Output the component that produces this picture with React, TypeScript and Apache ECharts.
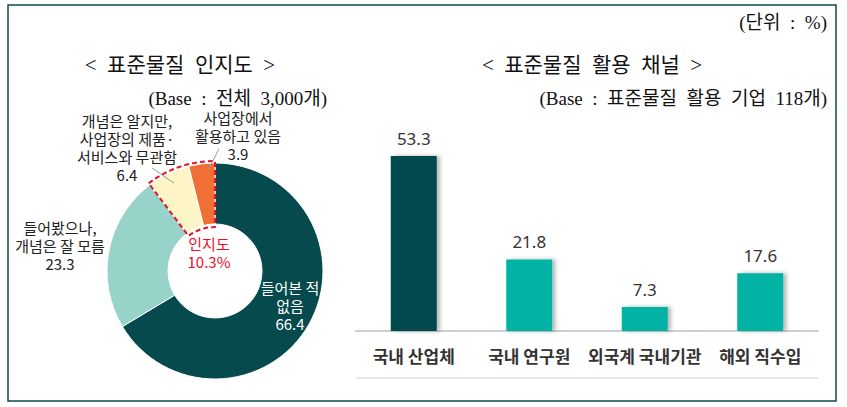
import React, { useEffect, useRef } from "react";
import * as echarts from "echarts";

// ---- data ----
const donutNames = [
  "들어본 적\n없음",
  "들어봤으나,\n개념은 잘 모름",
  "개념은 알지만,\n사업장의 제품·\n서비스와 무관함",
  "사업장에서\n활용하고 있음",
];
const donutValues = [66.4, 23.3, 6.4, 3.9];

const barCategories = ["국내 산업체", "국내 연구원", "외국계 국내기관", "해외 직수입"];
const barValues = [53.3, 21.8, 7.3, 17.6];

const unitText = "(단위  :  %)";
const leftTitle = "<  표준물질  인지도  >";
const rightTitle = "<  표준물질  활용  채널  >";
const leftBase = "(Base  :  전체  3,000개)";
const rightBase = "(Base  :  표준물질  활용  기업  118개)";
const awarenessLabel = "인지도";

// ---- styles ----
const donutColors = ["#064a4e", "#97d3c8", "#fdf5c6", "#f06f35"];
const barColors = ["#064a4e", "#00b3a4", "#00b3a4", "#00b3a4"];
const labelPos = [
  { x: 290, y: 305 },
  { x: 60, y: 245 },
  { x: 127, y: 147 },
  { x: 238, y: 135 },
];
const leaderLines = [
  { x1: 152, y1: 168, x2: 174, y2: 183 },
  { x1: 219, y1: 149, x2: 208, y2: 170 },
];
const SERIF = "'Liberation Serif', 'DejaVu Serif', 'Noto Sans CJK KR', serif";
const SANS = "'Noto Sans CJK KR', 'Noto Sans', sans-serif";

export default function App() {
  const ref = useRef<HTMLDivElement>(null);

  useEffect(() => {
    if (!ref.current) return;
    const chart = echarts.init(ref.current, undefined, { renderer: "svg" });

    const awareness = (donutValues[2] + donutValues[3]).toFixed(1);
    const restSum = donutValues[0] + donutValues[1];

    const pieData = donutValues.map((v, i) => ({
      value: v,
      name: donutNames[i],
      itemStyle: { color: donutColors[i] },
      label: {
        position: i === 0 ? "inside" : "outside",
        color: i === 0 ? "#ffffff" : "#222222",
      },
      labelLine: { show: false },
    }));

    const textEl = (x: number, y: number, text: string, font: string, align: string) => ({
      type: "text",
      x,
      y,
      style: { text, font, fill: "#111", textAlign: align, textVerticalAlign: "middle" },
    });

    chart.setOption({
      animation: false,
      graphic: [
        {
          type: "rect",
          shape: { x: 8, y: 5, width: 828, height: 396 },
          style: { fill: "none", stroke: "#0d4b4d", lineWidth: 1.5 },
          silent: true,
        },
        textEl(827, 22, unitText, `19px ${SERIF}`, "right"),
        textEl(180, 65, leftTitle, `21px ${SERIF}`, "center"),
        textEl(592, 65, rightTitle, `21px ${SERIF}`, "center"),
        textEl(327, 98, leftBase, `19px ${SERIF}`, "right"),
        textEl(827, 98, rightBase, `19px ${SERIF}`, "right"),
        {
          type: "text",
          x: 209,
          y: 252,
          z: 100,
          style: {
            text: `${awarenessLabel}\n${awareness}%`,
            font: `15px ${SANS}`,
            lineHeight: 18,
            fill: "#e8112d",
            textAlign: "center",
            textVerticalAlign: "middle",
          },
        },
        ...leaderLines.map((l) => ({
          type: "line",
          z: 100,
          shape: l,
          style: { stroke: "#999999", lineWidth: 1 },
          silent: true,
        })),
        {
          type: "line",
          shape: { x1: 356, y1: 378, x2: 818, y2: 378 },
          style: { stroke: "#e0e0e0", lineWidth: 1.5 },
          silent: true,
        },
      ],
      grid: { left: 356, right: 29, top: 134, bottom: 76 },
      xAxis: {
        type: "category",
        data: barCategories,
        axisLine: { lineStyle: { color: "#cfcfcf", width: 2 } },
        axisTick: { show: false },
        axisLabel: {
          interval: 0,
          margin: 16,
          fontSize: 17,
          fontWeight: "bold",
          color: "#333",
          fontFamily: SANS,
        },
      },
      yAxis: { type: "value", min: 0, max: 60, show: false },
      series: [
        {
          type: "bar",
          barWidth: 46,
          data: barValues.map((v, i) => ({ value: v, itemStyle: { color: barColors[i] } })),
          itemStyle: {
            shadowColor: "rgba(0,0,0,0.3)",
            shadowBlur: 4,
            shadowOffsetX: 3,
            shadowOffsetY: 0,
          },
          label: {
            show: true,
            position: "top",
            distance: 9,
            fontSize: 17,
            color: "#333",
            fontFamily: "'Noto Sans', sans-serif",
            formatter: (p: any) => p.value.toFixed(1),
          },
        },
        {
          type: "pie",
          center: [215, 271],
          radius: [47, 108],
          startAngle: 90,
          clockwise: true,
          avoidLabelOverlap: false,
          itemStyle: { borderColor: "#ffffff", borderWidth: 1 },
          label: {
            show: true,
            fontSize: 15,
            lineHeight: 18,
            fontFamily: SANS,
            align: "center",
            formatter: (p: any) => `${p.name}\n${p.value.toFixed(1)}`,
          },
          labelLayout: (params: any) => {
            const pos = labelPos[params.dataIndex];
            return { x: pos.x, y: pos.y, align: "center", verticalAlign: "middle" };
          },
          data: pieData,
        },
        {
          type: "pie",
          center: [215, 271],
          radius: [44, 110],
          startAngle: 90,
          clockwise: true,
          silent: true,
          z: 10,
          label: { show: false },
          labelLine: { show: false },
          data: [
            { value: restSum, itemStyle: { color: "rgba(0,0,0,0)", borderWidth: 0 } },
            {
              value: donutValues[2] + donutValues[3],
              itemStyle: {
                color: "rgba(0,0,0,0)",
                borderColor: "#e8112d",
                borderWidth: 2,
                borderType: [5, 3],
              },
            },
          ],
        },
      ],
    });

    return () => chart.dispose();
  }, []);

  return (
    <div
      ref={ref}
      style={{ position: "fixed", left: 0, top: 0, width: 847, height: 407, background: "#fff" }}
    />
  );
}
